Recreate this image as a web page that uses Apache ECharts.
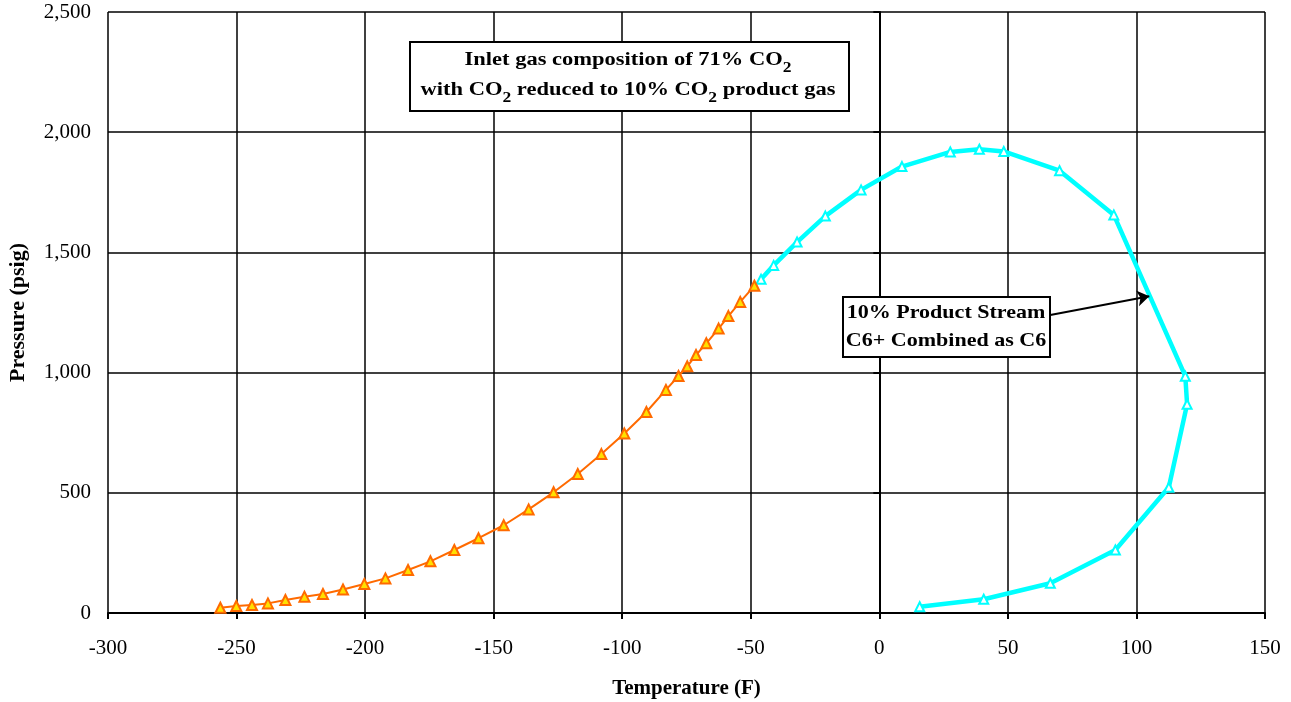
<!DOCTYPE html>
<html>
<head>
<meta charset="utf-8">
<script src="https://cdn.jsdelivr.net/npm/echarts@6/dist/echarts.min.js"></script>
<style>
html,body{margin:0;padding:0;background:#fff;}
#chart{width:1291px;height:702px;}
</style>
</head>
<body>
<div id="chart"></div>
<script>
// Temperature (F) and Pressure (psig)
const orangeT = [-256.3,-250.1,-244.0,-237.8,-231.0,-223.6,-216.4,-208.6,-200.3,-192.1,-183.3,-174.6,-165.3,-155.9,-146.1,-136.4,-126.7,-117.3,-108.1,-99.2,-90.6,-83.0,-78.1,-74.7,-71.3,-67.3,-62.5,-58.7,-54.1,-48.6];
const orangeP = [22,29,33,40,54,68,79,98,121,144,179,215,262,311,365,431,502,578,661,747,836,928,986,1026,1073,1122,1183,1235,1294,1361];
const cyanT = [-46.0,-41.1,-32.0,-21.0,-7.1,8.8,27.6,38.9,48.4,70.1,91.2,119.0,119.7,112.6,91.8,66.5,40.6,15.7];
const cyanP = [1388,1446,1543,1651,1760,1857,1918,1929,1920,1840,1656,985,868,523,262,124,57,26];
const xTicks = [-300,-250,-200,-150,-100,-50,0,50,100,150];
const yTicks = [0,500,1000,1500,2000,2500];
const arrowFrom = [66.5,1240];
const arrowTo = [105,1318];

const pair = (a,b) => a.map((v,i)=>[v,b[i]]);
const FONT = '"Liberation Serif","Times New Roman",serif';
const chart = echarts.init(document.getElementById('chart'));
chart.setOption({
  animation:false,
  backgroundColor:'#fff',
  grid:{left:108,right:26,top:12,bottom:89,show:false,containLabel:false,outerBoundsMode:'none'},
  xAxis:{
    type:'value',min:xTicks[0],max:xTicks[xTicks.length-1],interval:50,
    name:'Temperature (F)',nameLocation:'middle',nameGap:65,
    nameTextStyle:{fontFamily:FONT,fontWeight:'bold',fontSize:21,color:'#000'},
    axisLine:{onZero:false,lineStyle:{color:'#000',width:2}},
    axisTick:{show:true,length:6,lineStyle:{color:'#000',width:2}},
    axisLabel:{fontFamily:FONT,fontSize:21,color:'#000',margin:25},
    splitLine:{show:true,lineStyle:{color:'#000',width:1.5}}
  },
  yAxis:{
    type:'value',min:yTicks[0],max:yTicks[yTicks.length-1],interval:500,
    name:'Pressure (psig)',nameLocation:'middle',nameGap:79,nameRotate:90,
    nameTextStyle:{fontFamily:FONT,fontWeight:'bold',fontSize:22,color:'#000'},
    axisLine:{lineStyle:{color:'#000',width:2}},
    axisTick:{show:true,length:6,lineStyle:{color:'#000',width:2}},
    axisLabel:{fontFamily:FONT,fontSize:21,color:'#000',margin:17,
      formatter:v=>v.toLocaleString('en-US')},
    splitLine:{show:true,lineStyle:{color:'#000',width:1.5}}
  },
  series:[
    {
      type:'line',data:pair(orangeT,orangeP),
      lineStyle:{color:'#FF6A00',width:2},
      symbol:'triangle',symbolSize:10,
      itemStyle:{color:'#FFE000',borderColor:'#FF6A00',borderWidth:2},
      z:3
    },
    {
      type:'line',data:pair(cyanT,cyanP),
      lineStyle:{color:'#00FFFF',width:4.5},
      symbol:'triangle',symbolSize:9,
      itemStyle:{color:'#ffffff',borderColor:'#00FFFF',borderWidth:2},
      z:2
    },
    {
      type:'line',data:[],z:6,
      markLine:{
        silent:true,
        symbol:['none','arrow'],symbolSize:12,
        label:{show:false},
        lineStyle:{color:'#000',width:2,type:'solid'},
        data:[[{coord:arrowFrom},{coord:arrowTo}]]
      }
    }
  ],
  graphic:[
    {
      type:'rect',left:409,top:41,z:10,
      shape:{width:439,height:69},
      style:{fill:'#fff',stroke:'#000',lineWidth:2}
    },
    {
      type:'text',z:11,x:628,y:45,scaleX:1.25,
      style:{
        text:'{b|Inlet gas composition of 71% CO}{s|2}\n{b|with CO}{s|2}{b| reduced to 10% CO}{s|2}{b| product gas}',
        align:'center',verticalAlign:'top',
        rich:{
          b:{fontFamily:FONT,fontWeight:'bold',fontSize:18,lineHeight:30,color:'#000'},
          s:{fontFamily:FONT,fontWeight:'bold',fontSize:14,lineHeight:21,verticalAlign:'bottom',color:'#000'}
        }
      }
    },
    {
      type:'rect',left:842,top:296,z:10,
      shape:{width:207,height:60},
      style:{fill:'#fff',stroke:'#000',lineWidth:2}
    },
    {
      type:'text',z:11,x:946,y:299,scaleX:1.16,
      style:{
        text:'10% Product Stream\nC6+ Combined as C6',
        font:'bold 19px '+FONT,fill:'#000',align:'center',verticalAlign:'top',lineHeight:28
      }
    }
  ]
});
</script>
</body>
</html>
